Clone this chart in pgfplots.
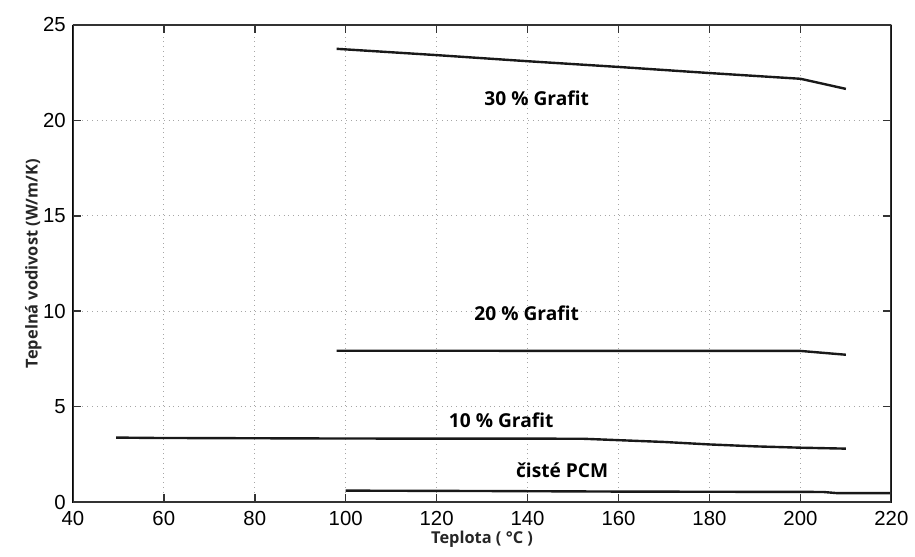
\documentclass[border=0pt]{standalone}
\usepackage{fontspec}
\setmainfont{Open Sans}
\newfontfamily\tickfont{Liberation Sans}
\usepackage{pgfplots}
\pgfplotsset{compat=1.18}
\begin{document}
\begin{tikzpicture}
\begin{axis}[
  scale only axis,
  width=410pt, height=239pt,
  xmin=40, xmax=220, ymin=0, ymax=25,
  xtick={40,60,...,220}, ytick={0,5,...,25},
  tick align=inside,
  major tick length=4pt,
  every tick/.style={black!80, line width=0.8pt},
  xtick pos=both, ytick pos=both,
  grid=major,
  grid style={black!35, dotted, line width=0.5pt},
  /pgf/number format/assume math mode=true,
  ticklabel style={font=\tickfont\fontsize{10.2}{12}\selectfont, text=black},
  xticklabel style={yshift=-1pt},
  xlabel={Teplota ( °C )},
  ylabel={Tepelná vodivost (W/m/K)},
  label style={font=\fontsize{8.2}{9}\selectfont\bfseries, text=black!85},
  xlabel style={yshift=4pt},
  ylabel style={yshift=-6pt},
]
\addplot[black!90, line width=1.2pt, no marks] coordinates {(98,23.75) (120,23.42) (140,23.1) (160,22.8) (180,22.48) (200,22.18) (210,21.65)};
\addplot[black!90, line width=1.2pt, no marks] coordinates {(98,7.93) (120,7.93) (160,7.92) (200,7.92) (210,7.72)};
\addplot[black!90, line width=1.2pt, no marks] coordinates {(49.5,3.38) (58,3.36) (100,3.33) (152,3.32) (170,3.15) (180,3.02) (190,2.92) (200,2.85) (210,2.8)};
\addplot[black!90, line width=1.2pt, no marks] coordinates {(100,0.6) (130,0.58) (160,0.55) (205,0.53) (208,0.47) (220,0.47)};
\draw[black!80, line width=1.1pt] (rel axis cs:0,0) rectangle (rel axis cs:1,1);
\node[font=\fontsize{9.6}{12}\selectfont\bfseries] at (axis cs:142,21.17) {30 \% Grafit};
\node[font=\fontsize{9.6}{12}\selectfont\bfseries] at (axis cs:139.8,9.87) {20 \% Grafit};
\node[font=\fontsize{9.6}{12}\selectfont\bfseries] at (axis cs:134.2,4.29) {10 \% Grafit};
\node[font=\fontsize{9.6}{12}\selectfont\bfseries] at (axis cs:147.6,1.67) {čisté PCM};
\end{axis}
\path[use as bounding box] (-36.5pt,-27.5pt) rectangle (421.5pt,251.5pt);
\end{tikzpicture}
\end{document}
